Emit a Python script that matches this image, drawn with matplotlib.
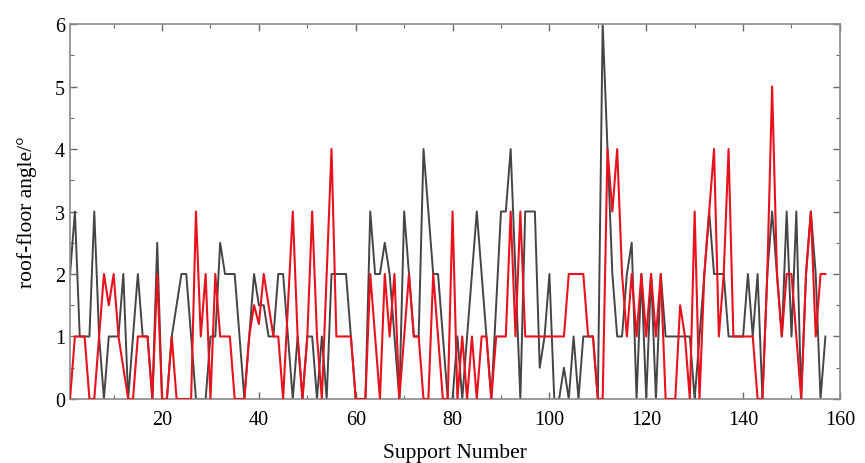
import numpy as np
import matplotlib
matplotlib.use("Agg")
import matplotlib.pyplot as plt
from matplotlib.ticker import MultipleLocator

# Roof-floor angle measured at each hydraulic support
support_gray = [
    2, 3, 1, 1, 1, 3, 1, 0, 1, 1,
    1, 2, 0, 1, 2, 1, 1, 0, 2.5, 0,
    0, 1, 1.5, 2, 2, 1, 0, 0, 0, 1,
    1, 2.5, 2, 2, 2, 1, 0, 1, 2, 1.5,
    1.5, 1, 1, 2, 2, 1, 0, 1, 0, 1,
    1, 0, 1, 0, 2, 2, 2, 2, 1, 0,
    0, 0, 3, 2, 2, 2.5, 2, 1, 0, 3,
    2, 1, 1, 4, 3, 2, 2, 1, 0, 0,
    1, 0, 1, 2, 3, 2, 1, 0, 1.5, 3,
    3, 4, 2, 0, 3, 3, 3, 0.5, 1, 2,
    0, 0, 0.5, 0, 1, 0, 1, 1, 1, 0,
    6, 4, 2, 1, 1, 2, 2.5, 0, 2, 0,
    2, 0, 2, 1, 1, 1, 1, 1, 1, 0,
    1, 2, 3, 2, 2, 2, 1, 1, 1, 1,
    2, 1, 2, 0, 2, 3, 2, 1, 3, 1,
    3, 0, 2, 3, 2, 0, 1,
]

support_red = [
    0, 1, 1, 1, 0, 0, 1, 2, 1.5, 2,
    1, 0.5, 0, 0, 1, 1, 1, 0, 2, 0,
    0, 1, 0, 0, 0, 0, 3, 1, 2, 0,
    2, 1, 1, 1, 0, 0, 0, 1, 1.5, 1.2,
    2, 1.5, 1, 1, 0, 1.5, 3, 1, 0, 1,
    3, 1, 0, 2, 4, 1, 1, 1, 1, 0,
    0, 0, 2, 1, 0, 2, 1, 2, 0, 1,
    2, 1, 1, 0, 0, 2, 1, 0, 0, 3,
    0, 1, 0, 1, 0, 1, 1, 0, 1, 1,
    1, 3, 1, 3, 1, 1, 1, 1, 1, 1,
    1, 1, 1, 2, 2, 2, 2, 1, 1, 0,
    0, 4, 3, 4, 2, 1, 2, 1, 2, 1,
    2, 1, 2, 0, 0, 0, 1.5, 1, 0, 3,
    0, 2, 3, 4, 1, 2, 4, 1, 1, 1,
    1, 1, 0, 0, 2, 5, 2, 1, 2, 2,
    1, 0, 2, 3, 1, 2, 2,
]

x_ticks = [20, 40, 60, 80, 100, 120, 140, 160]
y_ticks = [0, 1, 2, 3, 4, 5, 6]

plt.rcParams["font.family"] = ["Liberation Serif", "DejaVu Serif"]

fig = plt.figure(figsize=(8.65, 4.64), dpi=100)
ax = fig.add_axes([0.081, 0.138, 0.890, 0.808])

x = np.arange(1, len(support_gray) + 1)
ax.plot(x, support_gray, color="#454545", lw=1.4, zorder=2)
ax.plot(x, support_red, color="#e8121c", lw=1.5, zorder=3)

ax.set_xlim(1, 160)
ax.set_ylim(0, 6)
ax.set_xticks(x_ticks)
ax.set_yticks(y_ticks)
ax.xaxis.set_minor_locator(MultipleLocator(10))
ax.yaxis.set_minor_locator(MultipleLocator(0.5))

for s in ax.spines.values():
    s.set_color("#8a8a8a")
    s.set_linewidth(1.2)

ax.tick_params(which="both", direction="in", top=True, right=True,
               color="#6a6a6a", labelsize=14.5, labelcolor="black")
ax.tick_params(which="major", length=5, width=1)
ax.tick_params(which="minor", length=3, width=0.8)
ax.tick_params(axis="x", pad=8)

ax.set_xlabel("Support Number", fontsize=15.5, labelpad=10)
ax.set_ylabel("roof-floor angle/\u00b0", fontsize=15.5, labelpad=13)

fig.savefig("out.png", dpi=100)
